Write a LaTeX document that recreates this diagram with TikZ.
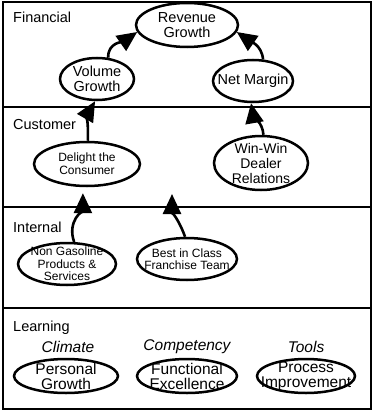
\documentclass[tikz,border=0pt]{standalone}
\usepackage{fontspec}
\setmainfont{Liberation Sans}
\usetikzlibrary{arrows.meta,shapes.geometric}
\begin{document}
\begin{tikzpicture}[x=1pt,y=1pt,
  frame/.style={line width=2.2pt},
  divider/.style={line width=2.6pt},
  ring/.style={ellipse, draw, line width=2.5pt, inner sep=0pt},
  goaltext/.style={inner sep=0pt, align=center},
  big/.style={font=\fontsize{14.5}{15.5}\selectfont},
  small/.style={font=\fontsize{12}{12.5}\selectfont},
  learn/.style={font=\fontsize{15.5}{15}\selectfont},
  section/.style={anchor=west, inner sep=0pt, font=\fontsize{14.5}{16}\selectfont},
  theme/.style={inner sep=0pt, font=\fontsize{15.5}{16}\selectfont\itshape},
  link/.style={line width=2.6pt, -{Triangle[length=20pt,width=18pt]}},
]
\useasboundingbox (0,0) rectangle (374,-412);

% perspective bands
\draw[frame] (3,-2) rectangle (371,-409);
\draw[divider] (3,-107) -- (371,-107);
\draw[divider] (3,-207) -- (371,-207);
\draw[divider] (3,-308) -- (371,-308);

\node[section] (lfin) at (13,-17) {Financial};
\node[section] (lcus) at (13,-125) {Customer};
\node[section] (lint) at (13,-227) {Internal};
\node[section] (llrn) at (13,-328) {Learning};

% financial goals
\node[ring, minimum width=102pt, minimum height=44pt] (rev) at (187,-25) {};
\node[goaltext, big] (revt) at (rev) {Revenue\\Growth};
\node[ring, minimum width=74pt, minimum height=42pt] (vol) at (97,-79) {};
\node[goaltext, big] (volt) at (vol) {Volume\\Growth};
\node[ring, minimum width=80pt, minimum height=42pt] (net) at (253,-81) {};
\node[goaltext, big] (nett) at (net) {Net Margin};

% customer goals
\node[ring, minimum width=106pt, minimum height=44pt] (del) at (87,-164) {};
\node[goaltext, font=\fontsize{12}{13}\selectfont] (delt) at (del) {Delight the\\Consumer};
\node[ring, minimum width=94pt, minimum height=54pt] (win) at (261,-163) {};
\node[goaltext, font=\fontsize{14}{15}\selectfont] (wint) at (win) {Win-Win\\Dealer\\Relations};

% internal goals
\node[ring, minimum width=98pt, minimum height=42pt] (nong) at (67,-264) {};
\node[goaltext, small] (nongt) at (nong) {Non Gasoline\\Products \&\\Services};
\node[ring, minimum width=100pt, minimum height=42pt] (best) at (187,-259) {};
\node[goaltext, small] (bestt) at (best) {Best in Class\\Franchise Team};
\coordinate (bestup) at (172,-194);

% learning goals
\node[theme] (clim) at (68,-347) {Climate};
\node[theme] (comp) at (187,-347) {Competency};
\node[theme] (tool) at (306,-347) {Tools};
\node[ring, minimum width=104pt, minimum height=34pt] (pers) at (66,-376) {};
\node[goaltext, learn] (perst) at (pers) {Personal\\Growth};
\node[ring, minimum width=100pt, minimum height=34pt] (func) at (187,-376) {};
\node[goaltext, learn] (funct) at (func) {Functional\\Excellence};
\node[ring, minimum width=98pt, minimum height=34pt] (proc) at (306,-376) {};
\node[goaltext, learn] (proct) at (proc) {Process\\Improvement};

% cause-and-effect links
\draw[link] (vol.62) to[out=95,in=215] (rev.188);
\draw[link] (net.65) to[out=95,in=-35] (rev.-8);
\draw[link] (del.88) to[out=88,in=240] (vol.-95);
\draw[link] (win.85) to[out=95,in=-80] (net.-95);
\draw[link, shorten >=6pt] (nong.72) to[out=110,in=-90] (del.-100);
\draw[link] (best.95) to[out=110,in=-90] (bestup);
\end{tikzpicture}
\end{document}
